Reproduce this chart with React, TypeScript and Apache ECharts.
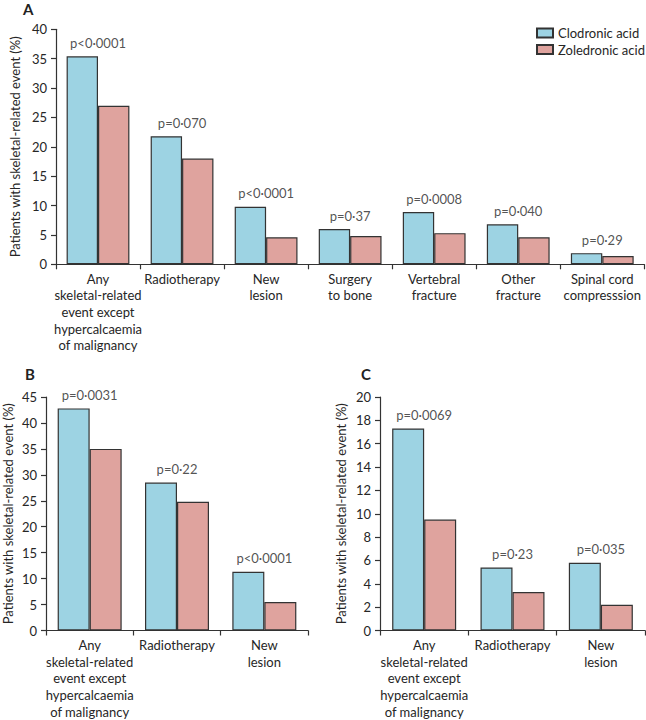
import React, { useEffect, useRef } from "react";
import * as echarts from "echarts";

// ---- Data ----
const seriesNames = ["Clodronic acid", "Zoledronic acid"];

const categoriesA = [
  "Any\nskeletal-related\nevent except\nhypercalcaemia\nof malignancy",
  "Radiotherapy",
  "New\nlesion",
  "Surgery\nto bone",
  "Vertebral\nfracture",
  "Other\nfracture",
  "Spinal cord\ncompresssion",
];
const clodronicA = [35.4, 21.8, 9.8, 6.0, 8.9, 6.8, 1.9];
const zoledronicA = [27.0, 18.0, 4.6, 4.8, 5.3, 4.6, 1.4];
const pValuesA = ["p<0·0001", "p=0·070", "p<0·0001", "p=0·37", "p=0·0008", "p=0·040", "p=0·29"];

const categoriesBC = [
  "Any\nskeletal-related\nevent except\nhypercalcaemia\nof malignancy",
  "Radiotherapy",
  "New\nlesion",
];
const clodronicB = [42.8, 28.5, 11.3];
const zoledronicB = [35.0, 24.8, 5.5];
const pValuesB = ["p=0·0031", "p=0·22", "p<0·0001"];

const clodronicC = [17.3, 5.4, 5.8];
const zoledronicC = [9.5, 3.3, 2.2];
const pValuesC = ["p=0·0069", "p=0·23", "p=0·035"];

const yAxisA = { min: 0, max: 40, interval: 5 };
const yAxisB = { min: 0, max: 45, interval: 5 };
const yAxisC = { min: 0, max: 20, interval: 2 };

const yTitle = "Patients with skeletal-related event (%)";

// ---- Styles ----
const FONT = "Lato";
const TEXT = "#262626";
const LINE = "#333333";
const BLUE = "#9dd3e3";
const PINK = "#dfa39e";

export default function App() {
  const ref = useRef<HTMLDivElement>(null);

  useEffect(() => {
    if (!ref.current) return;
    const chart = echarts.init(ref.current, undefined, { renderer: "svg" });

    const axisLine = { show: true, lineStyle: { color: LINE, width: 1.2 } };
    const axisTick = { show: true, length: 5, lineStyle: { color: LINE, width: 1.2 } };

    const xAxis = (gridIndex: number, data: string[]) => ({
      type: "category",
      gridIndex,
      data,
      axisLine,
      axisTick: { ...axisTick, alignWithLabel: false },
      axisLabel: {
        color: TEXT,
        fontFamily: FONT,
        fontSize: 13,
        lineHeight: 16.7,
        margin: 6,
        interval: 0,
      },
      splitLine: { show: false },
    });

    const yAxis = (gridIndex: number, r: { min: number; max: number; interval: number }, nameGap: number) => ({
      type: "value",
      gridIndex,
      min: r.min,
      max: r.max,
      interval: r.interval,
      axisLine,
      axisTick,
      axisLabel: { color: TEXT, fontFamily: FONT, fontSize: 13, margin: 9 },
      splitLine: { show: false },
      name: yTitle,
      nameLocation: "middle",
      nameGap,
      nameRotate: 90,
      nameTextStyle: { color: TEXT, fontFamily: FONT, fontSize: 13 },
    });

    const bars = (idx: number, clod: number[], zol: number[], width: number) => [
      {
        type: "bar",
        name: seriesNames[0],
        xAxisIndex: idx,
        yAxisIndex: idx,
        data: clod,
        barWidth: width,
        barGap: "0%",
        itemStyle: { color: BLUE, borderColor: LINE, borderWidth: 1.2 },
      },
      {
        type: "bar",
        name: seriesNames[1],
        xAxisIndex: idx,
        yAxisIndex: idx,
        data: zol,
        barWidth: width,
        barGap: "0%",
        itemStyle: { color: PINK, borderColor: LINE, borderWidth: 1.2 },
      },
      {
        type: "scatter",
        name: "p" + idx,
        xAxisIndex: idx,
        yAxisIndex: idx,
        data: clod.map((v, i) => Math.max(v, zol[i])),
        symbolSize: 0,
        itemStyle: { color: "transparent" },
        silent: true,
        z: 5,
        label: {
          show: true,
          position: "top",
          distance: 7,
          color: TEXT,
          fontFamily: FONT,
          fontSize: 13,
          formatter: (p: any) =>
            (idx === 0 ? pValuesA : idx === 1 ? pValuesB : pValuesC)[p.dataIndex],
        },
      },
    ];

    const panelLetter = (t: string, x: number, y: number) => ({
      type: "text",
      x,
      y,
      style: {
        text: t,
        fill: "#222",
        font: `bold 15px ${FONT}`,
        verticalAlign: "middle",
        align: "left",
      },
    });

    chart.setOption({
      animation: false,
      backgroundColor: "#ffffff",
      textStyle: { fontFamily: FONT },
      grid: [
        { left: 43.3, top: 29.3, width: 601, height: 235 },
        { left: 43.3, top: 397, width: 264.7, height: 234.7 },
        { left: 380, top: 397, width: 265, height: 234.7 },
      ],
      xAxis: [xAxis(0, categoriesA), xAxis(1, categoriesBC), xAxis(2, categoriesBC)],
      yAxis: [yAxis(0, yAxisA, 32), yAxis(1, yAxisB, 32), yAxis(2, yAxisC, 33)],
      legend: {
        data: seriesNames,
        orient: "vertical",
        left: 536,
        top: 26,
        padding: 0,
        itemWidth: 16,
        itemHeight: 9,
        itemGap: 2.5,
        icon: "rect",
        textStyle: { color: TEXT, fontFamily: FONT, fontSize: 13, lineHeight: 14 },
      },
      graphic: [panelLetter("A", 23, 9), panelLetter("B", 25, 374), panelLetter("C", 361, 374)],
      series: [
        ...bars(0, clodronicA, zoledronicA, 31.4),
        ...bars(1, clodronicB, zoledronicB, 32),
        ...bars(2, clodronicC, zoledronicC, 32),
      ],
    });

    return () => chart.dispose();
  }, []);

  return (
    <div
      ref={ref}
      style={{ position: "fixed", left: 0, top: 0, width: 646, height: 720, background: "#fff" }}
    />
  );
}
